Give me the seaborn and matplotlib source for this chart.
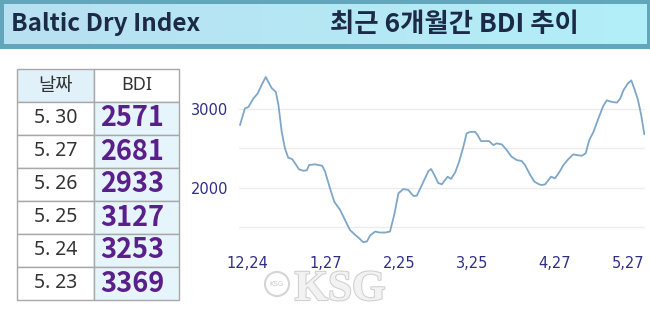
import numpy as np
import pandas as pd
import matplotlib
matplotlib.use("Agg")
import matplotlib.pyplot as plt
import seaborn as sns
from matplotlib.patches import Rectangle, Circle
from matplotlib.colors import LinearSegmentedColormap
import matplotlib.patheffects as pe

# ---------------- data ----------------
title_left = "Baltic Dry Index"
title_right = "최근 6개월간 BDI 추이"
table_header = ["날짜", "BDI"]
table_dates = ["5. 30", "5. 27", "5. 26", "5. 25", "5. 24", "5. 23"]
table_bdi = [2571, 2681, 2933, 3127, 3253, 3369]

# position along the 6-month window (trading days) and BDI
t = [0.0, 1.5, 2.6, 4.1, 5.4, 6.7, 7.9, 8.7, 9.7, 11.0,
     11.8, 12.8, 13.8, 14.8, 16.0, 16.9, 18.1, 19.4, 20.5, 21.2,
     23.0, 25.2, 26.1, 27.6, 28.9, 30.7, 32.2, 33.7, 35.3, 36.3,
     37.8, 38.9, 39.9, 41.4, 42.9, 44.5, 46.0, 47.3, 48.6, 50.1,
     51.6, 53.2, 54.2, 55.2, 56.5, 57.8, 58.6, 59.6, 60.8, 61.9,
     62.9, 63.7, 64.7, 66.0, 67.2, 68.5, 69.5, 70.6, 72.1, 72.9,
     73.9, 75.2, 76.4, 77.7, 78.7, 80.3, 81.8, 83.3, 84.9, 86.4,
     87.4, 89.0, 90.3, 91.7, 92.5, 93.6, 94.6, 95.4, 96.6, 97.9,
     99.2, 100.7, 102.2, 103.3, 104.8, 106.0, 107.1, 108.4, 109.9, 111.4,
     112.5, 114.0, 115.6, 116.6, 117.6, 118.9, 120, 121, 122, 123,
     124]
bdi = [2798, 3010, 3030, 3137, 3200, 3315, 3412, 3348, 3272, 3221,
       3052, 2712, 2500, 2382, 2365, 2310, 2234, 2216, 2221, 2289,
       2298, 2280, 2204, 1992, 1822, 1716, 1589, 1462, 1398, 1364,
       1305, 1313, 1389, 1440, 1428, 1428, 1440, 1653, 1929, 1983,
       1971, 1894, 1898, 1983, 2098, 2212, 2238, 2162, 2060, 2043,
       2098, 2140, 2111, 2196, 2331, 2522, 2692, 2712, 2712, 2670,
       2594, 2594, 2594, 2543, 2565, 2552, 2480, 2394, 2352, 2340,
       2289, 2162, 2076, 2043, 2034, 2043, 2098, 2140, 2119, 2196,
       2289, 2365, 2425, 2416, 2407, 2437, 2607, 2712, 2882, 3043,
       3115, 3094, 3085, 3137, 3243, 3328, 3369, 3253, 3127, 2933,
       2681]

x_tick_pos = [2.3, 26.2, 48.9, 71.1, 96.6, 119.1]
x_tick_labels = ["12,24", "1,27", "2,25", "3,25", "4,27", "5,27"]
y_tick_vals = [2000, 3000]
y_grid_vals = [1500, 2500]

# ---------------- figure ----------------
W, H = 650, 311
sns.set_theme(style="white")
plt.rcParams['font.family'] = ['Noto Sans CJK KR', 'DejaVu Sans']

fig = plt.figure(figsize=(W / 100, H / 100), dpi=100)
fig.patch.set_facecolor('white')

# overlay axes in pixel coordinates for title bar and table
ov = fig.add_axes([0, 0, 1, 1], zorder=0)
ov.set_axis_off()

# title bar
ov.add_patch(Rectangle((0, 0), W, 49, facecolor='#62a6bc', edgecolor='none'))
grad = np.linspace(0, 1, 256).reshape(1, -1)
cmap = LinearSegmentedColormap.from_list('g', ['#b8e0f0', '#b2eff8'])
ov.imshow(grad, aspect='auto', cmap=cmap, extent=[3.5, 646, 44.5, 5], zorder=1)
ov.text(11, 24.5, title_left, fontsize=17.5, fontweight='heavy', color='#1c2a48',
        ha='left', va='center', zorder=2)
ov.text(454, 24.5, title_right, fontsize=19, fontweight='heavy', color='#1c2a48',
        ha='center', va='center', zorder=2)

# table
x0, xm, x1 = 17.3, 94.3, 179.0
top, hh, rh = 68.5, 33.0, 33.0
border = '#a8a8a8'
ov.add_patch(Rectangle((x0, top), xm - x0, hh, facecolor='#e1f1f9', edgecolor=border, lw=1))
ov.add_patch(Rectangle((xm, top), x1 - xm, hh, facecolor='white', edgecolor=border, lw=1))
ov.text((x0 + xm) / 2, top + hh / 2, table_header[0], fontsize=13.5, color='#333333',
        ha='center', va='center')
ov.text((xm + x1) / 2, top + hh / 2, table_header[1], fontsize=13, color='#333333',
        ha='center', va='center', family=['Noto Sans', 'DejaVu Sans'])
for i, (d, v) in enumerate(zip(table_dates, table_bdi)):
    y = top + hh + i * rh
    ov.add_patch(Rectangle((x0, y), xm - x0, rh, facecolor='white', edgecolor=border, lw=1))
    ov.add_patch(Rectangle((xm, y), x1 - xm, rh, facecolor='#e6f4fb', edgecolor=border, lw=1))
    ov.text((x0 + xm) / 2, y + rh / 2, d, fontsize=14, color='#333333',
            ha='center', va='center', family=['Noto Sans', 'DejaVu Sans'])
    ov.text(132, y + rh / 2 + 0.5, str(v), fontsize=19.5, fontweight='bold', color='#5a1f8a',
            ha='center', va='center')

# watermark
ov.add_patch(Circle((277, 284), 12, facecolor='white', edgecolor='#d5d5d5', lw=1.5, zorder=3))
ov.text(277, 284, "KSG", fontsize=5, color='#c8c8c8', ha='center', va='center', zorder=4,
        family=['DejaVu Sans'])
ov.text(340, 290, "KSG", fontsize=31, fontweight='bold', color='#f2f2f2',
        family=['Liberation Serif', 'DejaVu Serif'], ha='center', va='center', zorder=4,
        path_effects=[pe.withStroke(linewidth=1.5, foreground='#cfcfcf')])

ov.set_xlim(0, W)
ov.set_ylim(H, 0)

# line chart
left_px, right_px, top_px, bot_px = 239, 645, 65, 250
ax = fig.add_axes([left_px / W, 1 - bot_px / H, (right_px - left_px) / W, (bot_px - top_px) / H],
                  zorder=2)
ax.patch.set_alpha(0)
df = pd.DataFrame({'t': t, 'BDI': bdi})
sns.lineplot(data=df, x='t', y='BDI', ax=ax, color='#7ea6c9', linewidth=1.3)
ax.set_xlim(-0.3, 124.2)
ax.set_ylim(1205, 3565)
ax.set_yticks(y_tick_vals)
ax.set_yticklabels([str(v) for v in y_tick_vals])
ax.set_yticks(y_grid_vals, minor=True)
ax.set_xticks(x_tick_pos)
ax.set_xticklabels(x_tick_labels)
ax.grid(False)
ax.grid(True, axis='y', which='both', color='#ececec', lw=1)
ax.set_axisbelow(True)
for s in ax.spines.values():
    s.set_visible(False)
ax.set_xlabel('')
ax.set_ylabel('')
ax.tick_params(axis='y', which='both', length=0, pad=8, labelsize=10.5, labelcolor='#2e2e86')
ax.tick_params(axis='x', which='both', length=0, pad=4, labelsize=10.5, labelcolor='#2e2e86')
for lab in ax.get_xticklabels() + ax.get_yticklabels():
    lab.set_family(['DejaVu Sans'])

fig.savefig('out.png', dpi=100, facecolor='white')
